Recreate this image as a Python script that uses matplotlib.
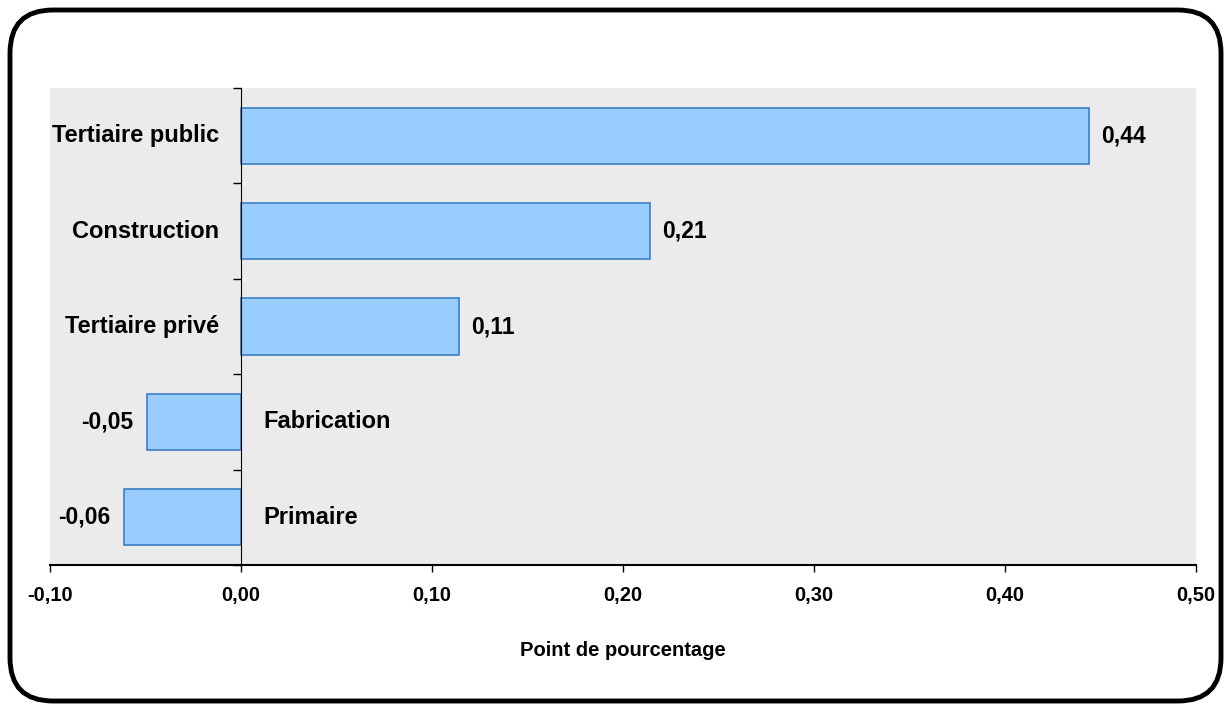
import matplotlib.pyplot as plt
import numpy as np
from matplotlib.patches import FancyBboxPatch

# Data
categories = ["Tertiaire public", "Construction", "Tertiaire privé", "Fabrication", "Primaire"]
values = [0.444, 0.214, 0.114, -0.049, -0.061]
x_ticks = [-0.10, 0.0, 0.10, 0.20, 0.30, 0.40, 0.50]

plt.rcParams['font.family'] = ['Liberation Sans', 'DejaVu Sans']

fig = plt.figure(figsize=(12.31, 7.11), dpi=100)
fig.patch.set_facecolor('white')

# rounded outer frame
frame = FancyBboxPatch((10 / 1231, 10 / 711), 1211 / 1231, 691 / 711,
                       boxstyle="round,pad=0,rounding_size=0.035",
                       transform=fig.transFigure, facecolor='none',
                       edgecolor='black', linewidth=3.5, mutation_aspect=1231 / 711)
fig.patches.append(frame)

ax = fig.add_axes([50 / 1231, 146 / 711, 1146 / 1231, 477 / 711])
ax.set_facecolor('#EBEBEB')

y = np.arange(len(categories))
ax.barh(y, values, height=0.59, color='#99CCFF', edgecolor='#3C7DC4', linewidth=1.2, zorder=2)

ax.set_xlim(-0.10, 0.50)
ax.set_ylim(len(categories) - 0.5, -0.5)

# y axis at zero, ticks on the category boundaries
ax.spines['left'].set_position(('data', 0))
ax.spines['left'].set_zorder(3)
ax.spines['top'].set_visible(False)
ax.spines['right'].set_visible(False)
ax.set_yticks(np.arange(-0.5, len(categories), 1.0))
ax.set_yticklabels([])
ax.tick_params(axis='y', direction='out', length=6, width=1)

ax.set_xticks(x_ticks)
ax.set_xticklabels([f"{t:.2f}".replace('.', ',') for t in x_ticks], fontsize=14.5, fontweight='bold')
ax.tick_params(axis='x', direction='out', length=5, width=1, pad=10)
ax.spines['bottom'].set_linewidth(1.5)

for yi, (cat, v) in enumerate(zip(categories, values)):
    lab = f"{v:.2f}".replace('.', ',')
    if v >= 0:
        ax.annotate(cat, (0, yi), xytext=(-16, 0), textcoords='offset points',
                    ha='right', va='center', fontsize=17, fontweight='bold')
        ax.annotate(lab, (v, yi), xytext=(9, 0), textcoords='offset points',
                    ha='left', va='center', fontsize=16.5, fontweight='bold')
    else:
        ax.annotate(cat, (0, yi), xytext=(16, 0), textcoords='offset points',
                    ha='left', va='center', fontsize=17, fontweight='bold')
        ax.annotate(lab, (v, yi), xytext=(-10, 0), textcoords='offset points',
                    ha='right', va='center', fontsize=16.5, fontweight='bold')

ax.set_xlabel("Point de pourcentage", fontsize=14.5, fontweight='bold', labelpad=26)

fig.savefig("out.png", dpi=100)
